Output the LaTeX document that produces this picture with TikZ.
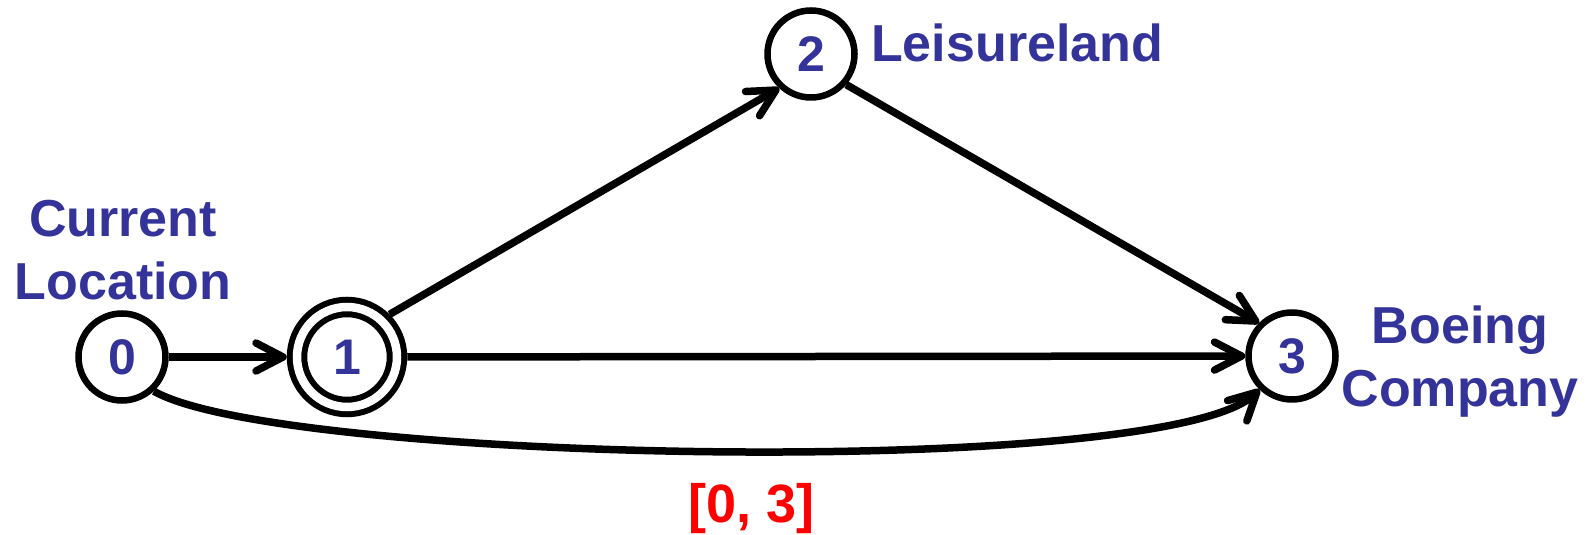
\documentclass[tikz,border=0pt]{standalone}
\usepackage{fontspec}
\setmainfont{Liberation Sans}
\usepackage{xcolor}
\definecolor{locblue}{RGB}{51,51,153}
\definecolor{pathred}{RGB}{255,0,0}
\usepackage{tikz}
\usetikzlibrary{arrows.meta,positioning,calc}

\begin{document}
\begin{tikzpicture}[x=1pt,y=1pt,
  locnode/.style={circle,draw,line width=6.5pt,minimum size=87pt,inner sep=0pt,
    font=\fontsize{50}{56}\selectfont\bfseries,text=locblue},
  visitnode/.style={circle,draw,line width=6pt,double,double distance=8.5pt,
    minimum size=100pt,inner sep=0pt,outer sep=10.25pt,
    font=\fontsize{50}{56}\selectfont\bfseries,text=locblue},
  loclabel/.style={align=center,inner sep=0pt,
    font=\fontsize{52}{63}\selectfont\bfseries,text=locblue},
  hop/.style={line width=7.5pt,-{Straight Barb[length=27pt,width=28pt,round]}}
]
  \useasboundingbox (0,0) rectangle (1591,535);

  % Locations
  \node[locnode] (n0) at (122,178) {0};
  \node[visitnode] (n1) at (347,178) {1};
  \node[locnode] (n2) at (811,481) {2};
  \node[locnode] (n3) at (1292,179) {3};

  % Names
  \node[loclabel,anchor=north] (cur) at (123,335) {Current\\Location};
  \node[loclabel,anchor=base west] (lei) at (871,473) {Leisureland};
  \node[loclabel,anchor=north] (boe) at (1460,229) {Boeing\\Company};

  % Hops
  \draw[hop] (n0) -- (n1);
  \draw[hop] (n1.45) -- (n2.-133);
  \draw[hop] (n2.-41) -- (n3.135);
  \draw[hop] (n1) -- (n3);
  \draw[hop] (n0.-47) .. controls +(125,-72) and +(-95,-90) .. (n3.-134);

  % Path found
  \node[anchor=base,inner sep=0pt,font=\fontsize{54}{60}\selectfont\bfseries,
    text=pathred] (res) at (752,12) {[0, 3]};
\end{tikzpicture}
\end{document}
